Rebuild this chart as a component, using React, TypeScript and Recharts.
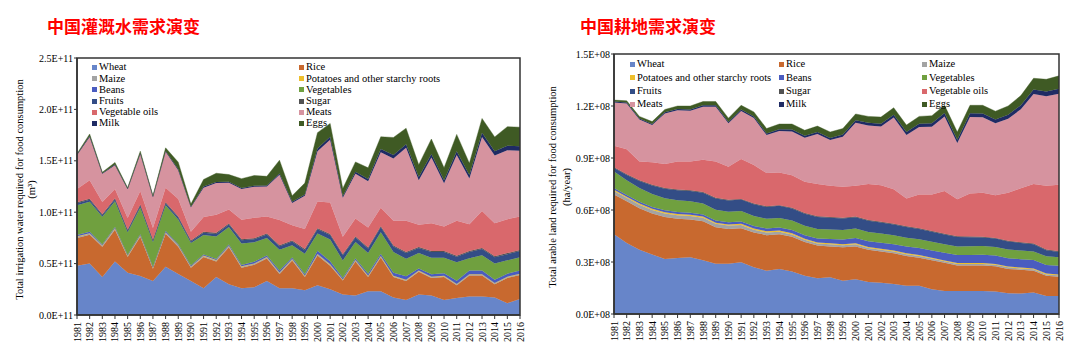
import React from "react";
import { AreaChart, Area, XAxis, YAxis, ReferenceArea } from "recharts";

const SERIF = '"Liberation Serif", "Times New Roman", serif';

const years = [
  "1981", "1982", "1983", "1984", "1985", "1986", "1987", "1988", "1989", "1990",
  "1991", "1992", "1993", "1994", "1995", "1996", "1997", "1998", "1999", "2000",
  "2001", "2002", "2003", "2004", "2005", "2006", "2007", "2008", "2009", "2010",
  "2011", "2012", "2013", "2014", "2015", "2016",
];

const foodGroups = [
  "Wheat", "Rice", "Maize", "Potatoes and other starchy roots", "Beans", "Vegetables",
  "Fruits", "Sugar", "Vegetable oils", "Meats", "Milk", "Eggs",
];

const groupColors = [
  "#6785c9", "#c8692f", "#a3a3a3", "#eebf2c", "#4a5cc0", "#70a03f",
  "#334d86", "#525252", "#d9686c", "#d6939f", "#1f2b64", "#3f5a24",
];

// irrigation water, unit 1E+11 m3
const waterWheat = [0.48, 0.50, 0.37, 0.52, 0.41, 0.38, 0.33, 0.47, 0.40, 0.33, 0.26, 0.37, 0.30, 0.26, 0.27, 0.33, 0.26, 0.26, 0.24, 0.29, 0.25, 0.20, 0.19, 0.23, 0.23, 0.17, 0.145, 0.20, 0.19, 0.145, 0.165, 0.18, 0.18, 0.17, 0.115, 0.155];
const waterRice = [0.27, 0.28, 0.295, 0.31, 0.155, 0.38, 0.12, 0.32, 0.265, 0.13, 0.305, 0.15, 0.36, 0.20, 0.22, 0.22, 0.14, 0.27, 0.13, 0.29, 0.23, 0.135, 0.33, 0.14, 0.33, 0.20, 0.185, 0.22, 0.17, 0.225, 0.125, 0.205, 0.205, 0.13, 0.245, 0.235];
const waterMaize = [0.012, 0.012, 0.01, 0.012, 0.01, 0.012, 0.01, 0.012, 0.01, 0.01, 0.01, 0.01, 0.01, 0.01, 0.008, 0.01, 0.01, 0.01, 0.008, 0.01, 0.01, 0.008, 0.01, 0.008, 0.01, 0.008, 0.008, 0.008, 0.008, 0.008, 0.008, 0.008, 0.008, 0.008, 0.008, 0.008];
const waterPotatoes = [0.004, 0.004, 0.003, 0.004, 0.003, 0.004, 0.003, 0.004, 0.004, 0.003, 0.004, 0.004, 0.004, 0.004, 0.004, 0.004, 0.004, 0.004, 0.003, 0.004, 0.004, 0.003, 0.004, 0.004, 0.004, 0.004, 0.004, 0.004, 0.004, 0.004, 0.004, 0.004, 0.004, 0.004, 0.004, 0.004];
const waterBeans = [0.012, 0.015, 0.008, 0.01, 0.008, 0.01, 0.006, 0.012, 0.01, 0.008, 0.01, 0.01, 0.012, 0.012, 0.015, 0.015, 0.02, 0.015, 0.015, 0.03, 0.03, 0.015, 0.015, 0.02, 0.02, 0.03, 0.035, 0.02, 0.025, 0.025, 0.03, 0.035, 0.035, 0.03, 0.03, 0.03];
const waterVegetables = [0.29, 0.29, 0.27, 0.25, 0.22, 0.26, 0.24, 0.25, 0.24, 0.22, 0.19, 0.22, 0.17, 0.21, 0.19, 0.17, 0.20, 0.12, 0.20, 0.17, 0.21, 0.17, 0.16, 0.20, 0.21, 0.20, 0.17, 0.15, 0.16, 0.15, 0.18, 0.12, 0.15, 0.16, 0.13, 0.13];
const waterFruits = [0.02, 0.02, 0.015, 0.02, 0.015, 0.02, 0.015, 0.02, 0.02, 0.015, 0.02, 0.025, 0.025, 0.03, 0.03, 0.035, 0.035, 0.035, 0.035, 0.04, 0.045, 0.05, 0.045, 0.045, 0.05, 0.055, 0.055, 0.05, 0.055, 0.055, 0.055, 0.06, 0.06, 0.06, 0.06, 0.06];
const waterSugar = [0.008, 0.01, 0.008, 0.01, 0.008, 0.01, 0.008, 0.01, 0.01, 0.008, 0.01, 0.01, 0.01, 0.01, 0.01, 0.01, 0.01, 0.01, 0.01, 0.01, 0.01, 0.01, 0.01, 0.01, 0.01, 0.01, 0.01, 0.01, 0.01, 0.01, 0.01, 0.01, 0.01, 0.01, 0.01, 0.01];
const waterOils = [0.13, 0.18, 0.12, 0.09, 0.115, 0.13, 0.115, 0.14, 0.17, 0.085, 0.145, 0.175, 0.135, 0.19, 0.20, 0.165, 0.245, 0.15, 0.195, 0.26, 0.305, 0.17, 0.175, 0.195, 0.18, 0.24, 0.305, 0.215, 0.27, 0.24, 0.34, 0.26, 0.36, 0.32, 0.33, 0.325];
const waterMeats = [0.33, 0.42, 0.275, 0.23, 0.28, 0.36, 0.30, 0.35, 0.28, 0.24, 0.285, 0.31, 0.26, 0.30, 0.30, 0.29, 0.44, 0.215, 0.325, 0.49, 0.61, 0.38, 0.435, 0.45, 0.54, 0.605, 0.71, 0.435, 0.64, 0.42, 0.64, 0.445, 0.72, 0.66, 0.67, 0.64];
const waterMilk = [0.005, 0.01, 0.005, 0.008, 0.005, 0.008, 0.005, 0.008, 0.008, 0.005, 0.01, 0.01, 0.01, 0.01, 0.01, 0.01, 0.012, 0.012, 0.012, 0.025, 0.03, 0.015, 0.02, 0.02, 0.03, 0.035, 0.035, 0.03, 0.035, 0.03, 0.035, 0.035, 0.04, 0.04, 0.045, 0.045];
const waterEggs = [0.008, 0.02, 0.01, 0.02, 0.01, 0.02, 0.01, 0.03, 0.07, 0.025, 0.07, 0.085, 0.07, 0.09, 0.10, 0.09, 0.13, 0.06, 0.11, 0.155, 0.13, 0.075, 0.095, 0.11, 0.12, 0.17, 0.155, 0.12, 0.145, 0.12, 0.165, 0.115, 0.14, 0.14, 0.185, 0.185];

// arable land, unit 1E+08 ha/year
const landWheat = [0.46, 0.41, 0.37, 0.343, 0.318, 0.323, 0.327, 0.31, 0.29, 0.29, 0.298, 0.27, 0.25, 0.259, 0.245, 0.22, 0.206, 0.212, 0.192, 0.20, 0.184, 0.18, 0.173, 0.163, 0.163, 0.143, 0.133, 0.133, 0.133, 0.133, 0.13, 0.12, 0.118, 0.124, 0.104, 0.104];
const landRice = [0.23, 0.24, 0.24, 0.237, 0.242, 0.227, 0.218, 0.225, 0.21, 0.20, 0.197, 0.20, 0.205, 0.201, 0.20, 0.195, 0.189, 0.178, 0.193, 0.19, 0.186, 0.18, 0.177, 0.172, 0.162, 0.167, 0.162, 0.147, 0.147, 0.147, 0.145, 0.14, 0.137, 0.126, 0.116, 0.111];
const landMaize = [0.02, 0.02, 0.02, 0.02, 0.02, 0.02, 0.02, 0.02, 0.02, 0.02, 0.018, 0.016, 0.015, 0.015, 0.014, 0.013, 0.012, 0.012, 0.012, 0.012, 0.011, 0.011, 0.01, 0.01, 0.01, 0.01, 0.009, 0.009, 0.009, 0.009, 0.009, 0.009, 0.008, 0.008, 0.008, 0.008];
const landPotatoes = [0.007, 0.007, 0.007, 0.007, 0.007, 0.007, 0.007, 0.007, 0.007, 0.007, 0.007, 0.007, 0.007, 0.007, 0.007, 0.006, 0.006, 0.006, 0.006, 0.006, 0.006, 0.006, 0.006, 0.006, 0.006, 0.005, 0.005, 0.005, 0.005, 0.005, 0.005, 0.005, 0.005, 0.005, 0.005, 0.005];
const landBeans = [0.01, 0.01, 0.01, 0.01, 0.011, 0.011, 0.012, 0.012, 0.013, 0.013, 0.014, 0.015, 0.016, 0.017, 0.018, 0.02, 0.022, 0.025, 0.027, 0.03, 0.032, 0.034, 0.036, 0.038, 0.04, 0.042, 0.044, 0.046, 0.047, 0.048, 0.048, 0.048, 0.048, 0.048, 0.05, 0.05];
const landVegetables = [0.095, 0.085, 0.08, 0.075, 0.07, 0.068, 0.066, 0.064, 0.062, 0.06, 0.06, 0.058, 0.056, 0.055, 0.055, 0.055, 0.055, 0.055, 0.055, 0.055, 0.054, 0.053, 0.052, 0.051, 0.05, 0.05, 0.05, 0.05, 0.05, 0.05, 0.05, 0.05, 0.05, 0.05, 0.05, 0.05];
const landFruits = [0.02, 0.03, 0.04, 0.05, 0.055, 0.058, 0.06, 0.062, 0.064, 0.065, 0.066, 0.067, 0.068, 0.07, 0.07, 0.07, 0.07, 0.068, 0.066, 0.065, 0.065, 0.064, 0.063, 0.062, 0.06, 0.058, 0.056, 0.054, 0.052, 0.05, 0.048, 0.046, 0.044, 0.042, 0.035, 0.03];
const landSugar = [0.004, 0.004, 0.004, 0.004, 0.004, 0.004, 0.004, 0.004, 0.004, 0.004, 0.004, 0.004, 0.004, 0.004, 0.004, 0.004, 0.004, 0.004, 0.004, 0.004, 0.004, 0.004, 0.004, 0.004, 0.004, 0.004, 0.004, 0.004, 0.004, 0.004, 0.004, 0.004, 0.004, 0.004, 0.004, 0.004];
const landOils = [0.124, 0.144, 0.109, 0.129, 0.138, 0.162, 0.166, 0.186, 0.21, 0.191, 0.23, 0.223, 0.192, 0.189, 0.187, 0.18, 0.186, 0.18, 0.179, 0.178, 0.208, 0.211, 0.199, 0.16, 0.195, 0.211, 0.247, 0.214, 0.248, 0.254, 0.246, 0.278, 0.311, 0.343, 0.368, 0.383];
const landMeats = [0.25, 0.264, 0.242, 0.215, 0.292, 0.295, 0.293, 0.306, 0.316, 0.25, 0.277, 0.271, 0.219, 0.239, 0.253, 0.254, 0.288, 0.264, 0.289, 0.364, 0.338, 0.339, 0.413, 0.366, 0.389, 0.391, 0.429, 0.324, 0.442, 0.435, 0.415, 0.427, 0.456, 0.519, 0.516, 0.525];
const landMilk = [0.006, 0.006, 0.006, 0.006, 0.007, 0.007, 0.007, 0.008, 0.008, 0.008, 0.009, 0.009, 0.01, 0.01, 0.011, 0.011, 0.012, 0.012, 0.013, 0.014, 0.015, 0.016, 0.017, 0.018, 0.019, 0.02, 0.02, 0.02, 0.021, 0.022, 0.022, 0.023, 0.024, 0.026, 0.028, 0.029];
const landEggs = [0.008, 0.01, 0.012, 0.014, 0.016, 0.018, 0.02, 0.022, 0.022, 0.022, 0.024, 0.026, 0.028, 0.03, 0.032, 0.032, 0.034, 0.034, 0.034, 0.036, 0.037, 0.038, 0.04, 0.04, 0.042, 0.043, 0.045, 0.044, 0.046, 0.047, 0.048, 0.05, 0.055, 0.065, 0.07, 0.075];

const waterTicks = [0, 0.5, 1, 1.5, 2, 2.5];
const landTicks = [0, 0.3, 0.6, 0.9, 1.2, 1.5];

const waterSeries = [waterWheat, waterRice, waterMaize, waterPotatoes, waterBeans, waterVegetables, waterFruits, waterSugar, waterOils, waterMeats, waterMilk, waterEggs];
const landSeries = [landWheat, landRice, landMaize, landPotatoes, landBeans, landVegetables, landFruits, landSugar, landOils, landMeats, landMilk, landEggs];

function buildRows(series: number[][]) {
  return years.map((year, i) => {
    const row: Record<string, string | number> = { year };
    foodGroups.forEach((g, k) => {
      row[g] = series[k][i];
    });
    return row;
  });
}

function YearTick({ x, y, payload }: any) {
  return (
    <text
      x={x}
      y={y + 1}
      transform={`rotate(-90, ${x}, ${y + 1})`}
      textAnchor="end"
      dy="0.35em"
      fontSize={10}
      fontFamily={SERIF}
      fill="#000"
    >
      {payload.value}
    </text>
  );
}

function AxisTitle({ viewBox, lines, xs }: any) {
  const cy = viewBox.y + viewBox.height / 2 + 3;
  return (
    <g>
      {lines.map((line: string, i: number) => (
        <text
          key={line}
          x={xs[i]}
          y={cy}
          transform={`rotate(-90, ${xs[i]}, ${cy})`}
          textAnchor="middle"
          dy="0.35em"
          fontSize={10.5}
          fontFamily={SERIF}
          fill="#000"
        >
          {line}
        </text>
      ))}
    </g>
  );
}

interface PanelProps {
  left: number;
  title: string;
  titleLeft: number;
  rows: Record<string, string | number>[];
  ticks: number[];
  suffix: string;
  margin: { top: number; right: number; bottom: number; left: number };
  axisLines: string[];
  axisXs: number[];
  legendTop: number;
  legendLeft: number;
  legendCols: number[];
  legendRow: number;
}

function Panel(p: PanelProps) {
  const top = p.ticks[p.ticks.length - 1];
  const nCols = p.legendCols.length;
  return (
    <div style={{ position: "absolute", left: p.left, top: 0, width: 540, height: 354 }}>
      <div
        style={{
          position: "absolute",
          left: p.titleLeft,
          top: 16,
          fontFamily: '"Noto Sans CJK SC", sans-serif',
          fontWeight: 700,
          fontSize: 17,
          color: "#ff0000",
          lineHeight: "20px",
          whiteSpace: "nowrap",
        }}
      >
        {p.title}
      </div>
      <AreaChart width={540} height={354} data={p.rows} margin={p.margin}>
        <XAxis
          dataKey="year"
          interval={0}
          tick={<YearTick />}
          tickSize={4}
          tickMargin={2}
          height={30}
          stroke="#333"
          axisLine={{ stroke: "#333", strokeWidth: 1.5 }}
          tickLine={{ stroke: "#333" }}
        />
        <YAxis
          domain={[0, top]}
          ticks={p.ticks}
          width={60}
          tickSize={3}
          tickMargin={1}
          tickFormatter={(v: number) => `${v.toFixed(1)}${p.suffix}`}
          tick={{ fontSize: 10, fontFamily: SERIF, fill: "#000" }}
          axisLine={{ stroke: "#333", strokeWidth: 1.5 }}
          tickLine={{ stroke: "#333" }}
          label={{ content: (props: any) => <AxisTitle {...props} lines={p.axisLines} xs={p.axisXs} /> }}
        />
        {foodGroups.map((g, k) => (
          <Area
            key={g}
            type="linear"
            dataKey={g}
            stackId="food"
            fill={groupColors[k]}
            fillOpacity={1}
            stroke={groupColors[k]}
            strokeWidth={0.4}
            isAnimationActive={false}
            dot={false}
            activeDot={false}
          />
        ))}
        <ReferenceArea
          x1={years[0]}
          x2={years[years.length - 1]}
          y1={0}
          y2={top}
          fill="none"
          stroke="#333"
          strokeWidth={1.5}
          ifOverflow="visible"
        />
      </AreaChart>
      <div
        style={{
          position: "absolute",
          left: p.legendLeft,
          top: p.legendTop,
          display: "grid",
          gridTemplateColumns: p.legendCols.map((c) => `${c}px`).join(" "),
          gridAutoRows: `${p.legendRow}px`,
          fontFamily: SERIF,
          fontSize: 10.5,
          color: "#000",
        }}
      >
        {foodGroups.map((g, k) => (
          <div key={g} style={{ display: "flex", alignItems: "center", whiteSpace: "nowrap", lineHeight: 1 }}>
            <span style={{ width: 5, height: 5, background: groupColors[k], marginRight: 2, flex: "none" }} />
            <span>{g}</span>
          </div>
        ))}
      </div>
    </div>
  );
}

export default function App() {
  const waterRows = buildRows(waterSeries);
  const landRows = buildRows(landSeries);
  return (
    <div style={{ position: "absolute", left: 0, top: 0, width: 1080, height: 354, background: "#fff" }}>
      <Panel
        left={0}
        title="中国灌溉水需求演变"
        titleLeft={47}
        rows={waterRows}
        ticks={waterTicks}
        suffix="E+11"
        margin={{ top: 58, right: 20, bottom: 9, left: 17 }}
        axisLines={["Total irrigation water required for food consumption", "(m³)"]}
        axisXs={[19, 31]}
        legendTop={62}
        legendLeft={92}
        legendCols={[207, 200]}
        legendRow={11.2}
      />
      <Panel
        left={540}
        title="中国耕地需求演变"
        titleLeft={40}
        rows={landRows}
        ticks={landTicks}
        suffix="E+08"
        margin={{ top: 54, right: 21, bottom: 10, left: 14 }}
        axisLines={["Total arable land required for food consumption", "(ha/year)"]}
        axisXs={[12, 26]}
        legendTop={58}
        legendLeft={90}
        legendCols={[149, 143, 120]}
        legendRow={13.3}
      />
    </div>
  );
}
